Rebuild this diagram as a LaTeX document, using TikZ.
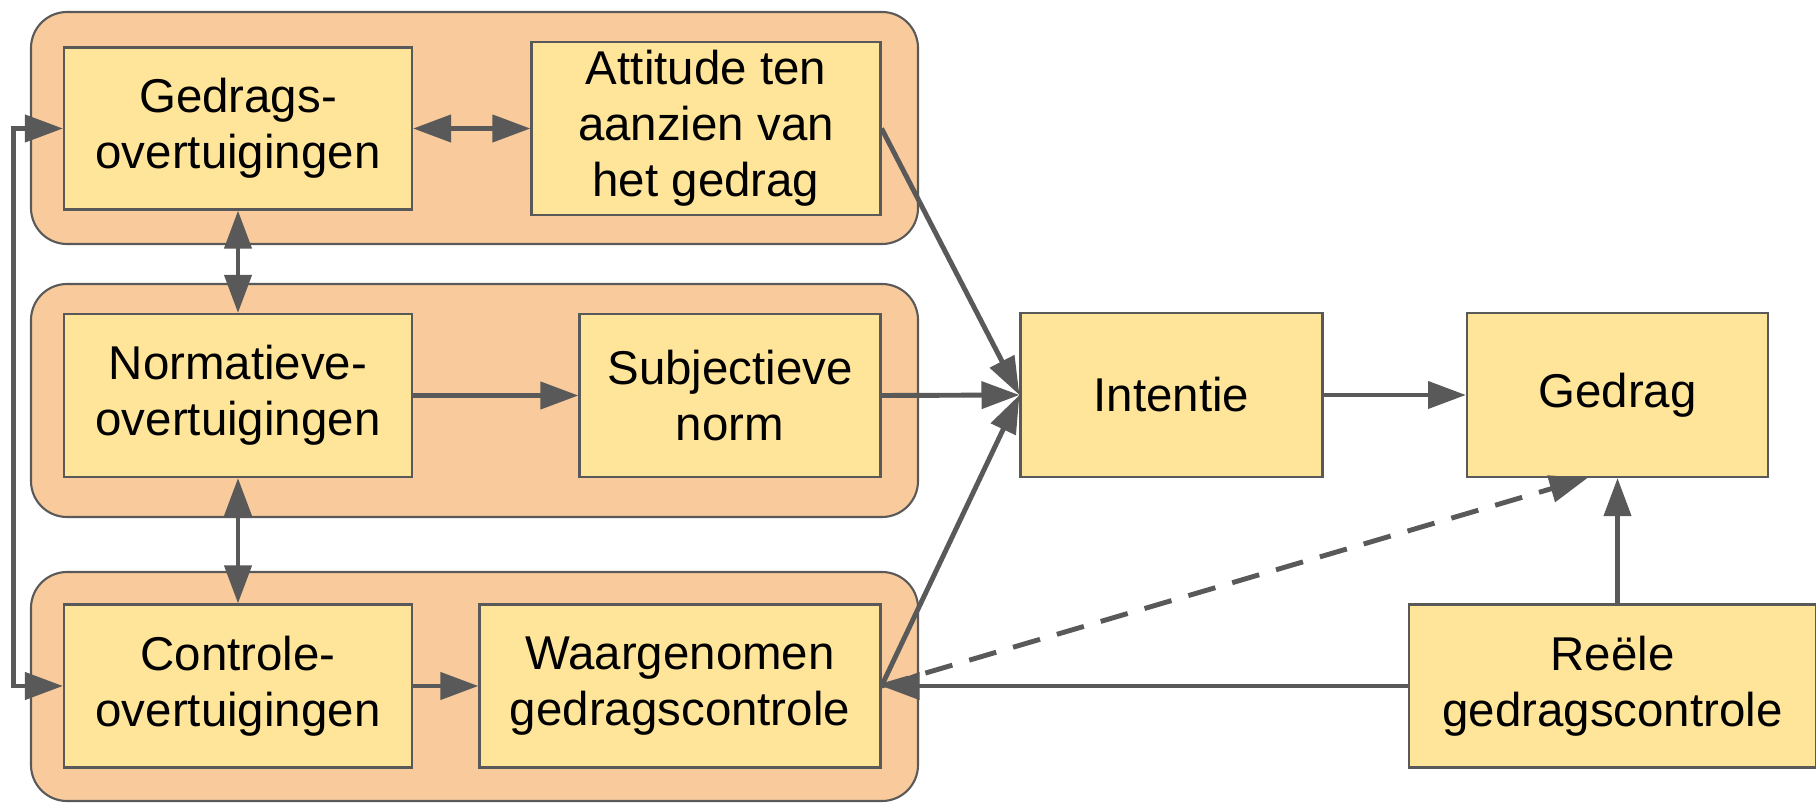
\documentclass[tikz,border=0pt]{standalone}
\usepackage{fontspec}
\setmainfont{Liberation Sans}
\usetikzlibrary{arrows.meta}
\definecolor{grpfill}{HTML}{F9CB9C}
\definecolor{boxfill}{HTML}{FFE599}
\definecolor{lijn}{HTML}{595959}

\begin{document}
\begin{tikzpicture}[
  >={Triangle[length=10.8pt,width=7.6pt]},
  groep/.style={draw=lijn,line width=0.6pt,fill=grpfill,rounded corners=0.36cm,minimum width=8.87cm},
  blok/.style={draw=lijn,line width=0.6pt,fill=boxfill,align=center,inner sep=2pt,font=\fontsize{13.5}{16}\selectfont},
  pijl/.style={draw=lijn,line width=1.4pt}
]
  \useasboundingbox (0,0) rectangle (18.16,-8.03);
  % groups
  \node[groep,minimum height=2.32cm] (g1) at (4.745,-1.28) {};
  \node[groep,minimum height=2.33cm] (g2) at (4.745,-4.005) {};
  \node[groep,minimum height=2.29cm] (g3) at (4.745,-6.865) {};
  % boxes
  \node[blok,minimum width=3.48cm,minimum height=1.62cm] (gedov) at (2.38,-1.285) {Gedrags-\\overtuigingen};
  \node[blok,minimum width=3.49cm,minimum height=1.73cm] (att) at (7.06,-1.285) {Attitude ten\\aanzien van\\het gedrag};
  \node[blok,minimum width=3.48cm,minimum height=1.63cm] (normov) at (2.38,-3.955) {Normatieve-\\overtuigingen};
  \node[blok,minimum width=3.01cm,minimum height=1.63cm] (subj) at (7.30,-3.955) {Subjectieve\\norm};
  \node[blok,minimum width=3.48cm,minimum height=1.63cm] (contov) at (2.38,-6.86) {Controle-\\overtuigingen};
  \node[blok,minimum width=4.01cm,minimum height=1.63cm] (waarg) at (6.80,-6.86) {Waargenomen\\gedragscontrole};
  \node[blok,minimum width=3.02cm,minimum height=1.64cm] (int) at (11.715,-3.95) {Intentie};
  \node[blok,minimum width=3.01cm,minimum height=1.64cm] (gedrag) at (16.175,-3.95) {Gedrag};
  \node[blok,minimum width=4.07cm,minimum height=1.63cm] (reele) at (16.125,-6.86) {Reële\\gedragscontrole};
  % arrows
  \draw[pijl,<->] (gedov.west) -- ++(-0.49,0) |- (contov.west);
  \draw[pijl,<->] (gedov.east) -- (att.west);
  \draw[pijl,<->] (gedov.south) -- (normov.north);
  \draw[pijl,<->] (normov.south) -- (contov.north);
  \draw[pijl,->] (normov.east) -- (subj.west);
  \draw[pijl,->] (contov.east) -- (waarg.west);
  \draw[pijl,->] (att.east) -- (int.west);
  \draw[pijl,->] (subj.east) -- (int.west);
  \draw[pijl,->] (waarg.east) -- (int.west);
  \draw[pijl,->] (int.east) -- (gedrag.west);
  \draw[pijl,->] (gedrag.south |- reele.north) -- (gedrag.south);
  \draw[pijl,->] (reele.west) -- (waarg.east);
  \draw[pijl,->,dash pattern=on 8pt off 5pt] (waarg.east) -- ([xshift=-0.3cm]gedrag.south);
\end{tikzpicture}
\end{document}
